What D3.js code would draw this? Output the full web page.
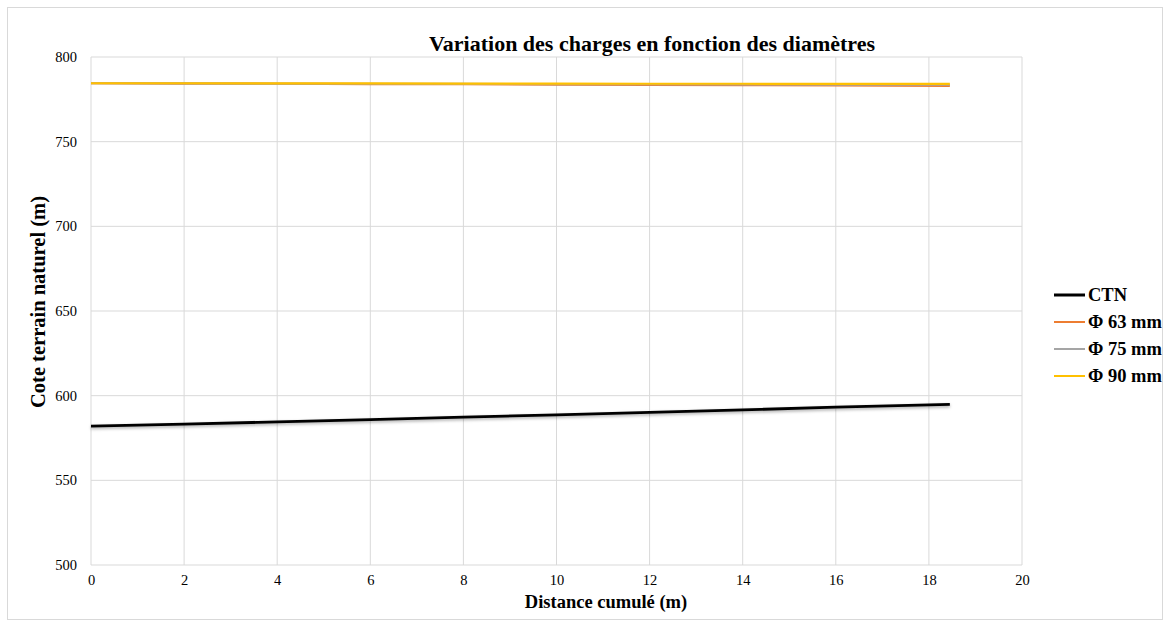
<!DOCTYPE html>
<html><head><meta charset="utf-8">
<script src="https://cdn.jsdelivr.net/npm/d3@7"></script>
<style>body{margin:0;background:#fff}svg{display:block}</style>
</head><body>
<svg id="c" width="1170" height="624"></svg>
<script>
const distances = [0, 2, 4, 6, 8, 10, 12, 14, 16, 18.45];
const ctn = [582, 583.2, 584.5, 585.9, 587.3, 588.7, 590.1, 591.6, 593.2, 594.8];
const phi63 = [784.5, 784.3, 784.2, 784.0, 783.9, 783.7, 783.5, 783.4, 783.2, 783.0];
const phi75 = [784.5, 784.4, 784.3, 784.2, 784.1, 784.0, 783.9, 783.8, 783.7, 783.6];
const phi90 = [784.5, 784.5, 784.4, 784.4, 784.3, 784.3, 784.2, 784.2, 784.1, 784.1];
const seriesNames = ["CTN", "Φ 63 mm", "Φ 75 mm", "Φ 90 mm"];
const seriesColors = ["#000000", "#ED7D31", "#A5A5A5", "#FFC000"];
const xTicks = [0, 2, 4, 6, 8, 10, 12, 14, 16, 18, 20];
const yTicks = [500, 550, 600, 650, 700, 750, 800];

const svg = d3.select("#c");
const font = "'Liberation Serif','Times New Roman',serif";
svg.append("rect").attr("x", 7.5).attr("y", 7.5).attr("width", 1155).attr("height", 612)
  .attr("fill", "#fff").attr("stroke", "#d9d9d9");

const x = d3.scaleLinear().domain([0, 20]).range([91, 1022]);
const y = d3.scaleLinear().domain([500, 800]).range([565, 57]);

const defs = svg.append("defs");
const f = defs.append("filter").attr("id", "sh").attr("x", "-5%").attr("y", "-50%").attr("width", "110%").attr("height", "200%");
f.append("feDropShadow").attr("dx", 0).attr("dy", 1.5).attr("stdDeviation", 1.5).attr("flood-color", "#000").attr("flood-opacity", 0.35);

// gridlines
svg.append("g").selectAll("line").data(xTicks).join("line")
  .attr("x1", d => x(d)).attr("x2", d => x(d)).attr("y1", y(500)).attr("y2", y(800))
  .attr("stroke", "#d9d9d9").attr("stroke-width", 1);
svg.append("g").selectAll("line").data(yTicks).join("line")
  .attr("y1", d => y(d)).attr("y2", d => y(d)).attr("x1", x(0)).attr("x2", x(20))
  .attr("stroke", "#d9d9d9").attr("stroke-width", 1);

// axes
const xa = svg.append("g").attr("transform", `translate(0,${y(500)})`)
  .call(d3.axisBottom(x).tickValues(xTicks).tickSize(0).tickPadding(10));
xa.select(".domain").remove();
xa.selectAll("text").attr("font-family", font).attr("font-size", 14.5).attr("fill", "#000");
const ya = svg.append("g").attr("transform", `translate(${x(0)},0)`)
  .call(d3.axisLeft(y).tickValues(yTicks).tickSize(0).tickPadding(14));
ya.select(".domain").remove();
ya.selectAll("text").attr("font-family", font).attr("font-size", 14.5).attr("fill", "#000");

const allSeries = [ctn, phi63, phi75, phi90];
const line = d3.line().x((d, i) => x(distances[i])).y(d => y(d));
[1, 2, 3].forEach(k => {
  svg.append("path").datum(allSeries[k]).attr("d", line).attr("fill", "none")
    .attr("stroke", seriesColors[k]).attr("stroke-width", 2.2);
});
svg.append("path").datum(ctn).attr("d", line).attr("fill", "none")
  .attr("stroke", seriesColors[0]).attr("stroke-width", 2.8).attr("filter", "url(#sh)");

// titles
svg.append("text").attr("x", 652).attr("y", 51).attr("text-anchor", "middle")
  .attr("font-family", font).attr("font-weight", "bold").attr("font-size", 22).text("Variation des charges en fonction des diamètres");
svg.append("text").attr("x", 606).attr("y", 608).attr("text-anchor", "middle")
  .attr("font-family", font).attr("font-weight", "bold").attr("font-size", 18.5).text("Distance cumulé (m)");
svg.append("text").attr("transform", "translate(45,302) rotate(-90)").attr("text-anchor", "middle")
  .attr("font-family", font).attr("font-weight", "bold").attr("font-size", 20.5).text("Cote terrain naturel (m)");

// legend
const lg = svg.append("g");
seriesNames.forEach((n, i) => {
  const yy = 295 + i * 27;
  lg.append("line").attr("x1", 1054).attr("x2", 1085).attr("y1", yy).attr("y2", yy)
    .attr("stroke", seriesColors[i]).attr("stroke-width", i === 0 ? 3 : 2);
  lg.append("text").attr("x", 1088).attr("y", yy + 6).attr("font-family", font)
    .attr("font-weight", "bold").attr("font-size", 18.5).text(n);
});
</script>
</body></html>
